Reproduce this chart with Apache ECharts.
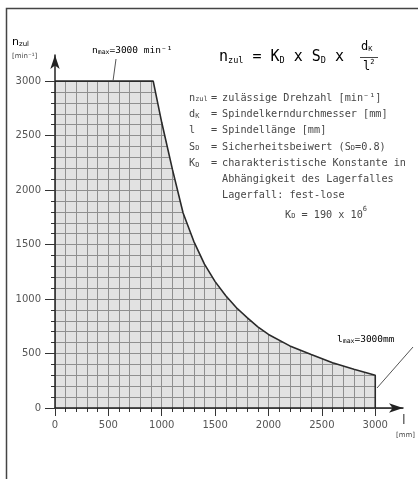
<!DOCTYPE html>
<html><head><meta charset="utf-8">
<script src="https://cdn.jsdelivr.net/npm/echarts@6/dist/echarts.min.js"></script>
<style>html,body{margin:0;padding:0;background:#fff}#c{width:418px;height:479px}</style>
</head><body><div id="c"></div>
<script>
// Spindle length l [mm]
const lengths = [0, 920, 1000, 1100, 1200, 1300, 1400, 1500, 1600, 1700, 1800, 1900, 2000, 2200, 2400, 2600, 2800, 3000, 3000];
// Permissible speed n_zul [min^-1]
const speeds  = [3000, 3000, 2620, 2190, 1790, 1530, 1320, 1160, 1030, 920, 830, 745, 675, 570, 490, 415, 355, 300, 0];
const majorTicks = [0, 500, 1000, 1500, 2000, 2500, 3000];
const minorTicks = [0, 100, 200, 300, 400, 500, 600, 700, 800, 900, 1000, 1100, 1200, 1300, 1400, 1500,
  1600, 1700, 1800, 1900, 2000, 2100, 2200, 2300, 2400, 2500, 2600, 2700, 2800, 2900, 3000];
const xMax = 3260, yMax = 3240;

const FONT = 'DejaVu Sans';
const MONO = 'DejaVu Sans Mono';
const TXT = '#474747';
const GRIDLINE = '#8f8f8f';
const curve = lengths.map((l, i) => [l, speeds[i]]);
const cover = curve.concat([[xMax, 0]]);

function gridAxis(max) {
  return { type: 'value', min: 0, max: max, interval: 100, z: 0,
    axisLine: { show: false }, axisTick: { show: false }, axisLabel: { show: false },
    splitLine: { show: true, showMaxLine: false, lineStyle: { color: GRIDLINE, width: 1 } } };
}
function minorAxis(max) {
  return { type: 'value', min: 0, max: max, interval: 100, z: 10,
    axisLine: { show: false }, axisLabel: { show: false }, splitLine: { show: false },
    axisTick: { show: true, length: 4, customValues: minorTicks, lineStyle: { color: '#333', width: 1 } } };
}
function majorAxis(max, isX) {
  return { type: 'value', min: 0, max: max, interval: 500, z: 11,
    axisLine: { show: true, symbol: ['none', 'arrow'], symbolSize: [7, 14], lineStyle: { color: '#222', width: 1.5 } },
    axisTick: { show: true, length: isX ? 8 : 10, customValues: majorTicks, lineStyle: { color: '#333', width: 1 } },
    axisLabel: { show: true, customValues: majorTicks, margin: isX ? 12 : 14, color: '#555', fontFamily: FONT, fontSize: 10,
      formatter: v => (v % 500 === 0 && v <= 3000) ? String(v) : '' },
    splitLine: { show: false } };
}

const legendRows = [
  ['{a|n}{s|zul}', '=', 'zulässige Drehzahl [min⁻¹]'],
  ['{a|d}{s|K}', '=', 'Spindelkerndurchmesser [mm]'],
  ['{a|l}', '=', 'Spindellänge [mm]'],
  ['{a|S}{s|D}', '=', 'Sicherheitsbeiwert (S{s|D}=0.8)'],
  ['{a|K}{s|D}', '=', 'charakteristische Konstante in'],
  ['', '', 'Abhängigkeit des Lagerfalles'],
  ['', '', 'Lagerfall: fest-lose']
];
const rich = {
  a: { fontFamily: MONO, fontSize: 10.2, color: TXT, lineHeight: 13, verticalAlign: 'bottom' },
  s: { fontFamily: MONO, fontSize: 7, color: TXT, lineHeight: 11, verticalAlign: 'bottom' },
  p: { fontFamily: MONO, fontSize: 7, color: TXT, lineHeight: 14, verticalAlign: 'top' }
};
const graphics = [];
graphics.push({ type: 'polyline', silent: true, shape: { points: [[6.5, 479], [6.5, 8.5], [418, 8.5]] },
  style: { stroke: '#444', lineWidth: 1.5, fill: null } });
let y0 = 100, dy = 16.3;
legendRows.forEach((r, i) => {
  const y = y0 + i * dy;
  if (r[0]) graphics.push({ type: 'text', left: 189, top: y - 7, style: { text: r[0], rich: rich, fill: TXT } });
  if (r[1]) graphics.push({ type: 'text', left: 211, top: y - 7, style: { text: '{a|' + r[1] + '}', rich: rich, fill: TXT } });
  graphics.push({ type: 'text', left: 222, top: y - 7, style: { text: '{a|' + r[2].replace('S{s|D}', '}{a|S}{s|D}{a|') + '}', rich: rich, fill: TXT } });
});
graphics.push({ type: 'text', left: 285, top: y0 + 7 * dy - 8, style: { text: '{a|K}{s|D}{a| = 190 x 10}{p|6}', rich: rich, fill: TXT } });

const frich = {
  a: { fontFamily: MONO, fontSize: 15, color: TXT, lineHeight: 19, verticalAlign: 'bottom' },
  s: { fontFamily: MONO, fontSize: 8.5, color: TXT, lineHeight: 14, verticalAlign: 'bottom' }
};
graphics.push({ type: 'text', left: 219, top: 50, style: { text: '{a|n}{s|zul}{a| = K}{s|D}{a| x S}{s|D}{a| x }', rich: frich } });
graphics.push({ type: 'text', left: 361, top: 41, style: { text: '{b|d}{t|K}', rich: {
  b: { fontFamily: MONO, fontSize: 12, color: TXT, lineHeight: 14, verticalAlign: 'bottom' },
  t: { fontFamily: MONO, fontSize: 7, color: TXT, lineHeight: 11, verticalAlign: 'bottom' } } } });
graphics.push({ type: 'line', silent: true, shape: { x1: 360, y1: 57.5, x2: 378, y2: 57.5 }, style: { stroke: TXT, lineWidth: 1 } });
graphics.push({ type: 'text', left: 363, top: 59, style: { text: '{b|l}{t|2}', rich: {
  b: { fontFamily: MONO, fontSize: 12, color: TXT, lineHeight: 14, verticalAlign: 'bottom' },
  t: { fontFamily: MONO, fontSize: 7, color: TXT, lineHeight: 14, verticalAlign: 'top' } } } });

// axis titles
graphics.push({ type: 'text', left: 12, top: 37, style: { text: '{a|n}{s|zul}', rich: {
  a: { fontFamily: FONT, fontSize: 11, color: TXT, lineHeight: 13, verticalAlign: 'bottom' },
  s: { fontFamily: FONT, fontSize: 7, color: TXT, lineHeight: 10, verticalAlign: 'bottom' } } } });
graphics.push({ type: 'text', left: 12, top: 53, style: { text: '[min⁻¹]', font: '7px ' + FONT, fill: TXT } });
graphics.push({ type: 'text', left: 402, top: 414, style: { text: 'l', font: '13px ' + FONT, fill: TXT } });
graphics.push({ type: 'text', left: 396, top: 432, style: { text: '[mm]', font: '7px ' + FONT, fill: TXT } });

// annotations
const arich = {
  a: { fontFamily: MONO, fontSize: 9.5, color: TXT, lineHeight: 11, verticalAlign: 'bottom' },
  s: { fontFamily: MONO, fontSize: 6.5, color: TXT, lineHeight: 8, verticalAlign: 'bottom' }
};
graphics.push({ type: 'text', left: 92, top: 46, style: { text: '{a|n}{s|max}{a|=3000 min⁻¹}', rich: arich } });
graphics.push({ type: 'line', silent: true, shape: { x1: 116, y1: 59, x2: 113, y2: 81 }, style: { stroke: '#555', lineWidth: 1 } });
graphics.push({ type: 'text', left: 337, top: 335, style: { text: '{a|l}{s|max}{a|=3000mm}', rich: arich } });
graphics.push({ type: 'line', silent: true, shape: { x1: 413, y1: 347, x2: 377, y2: 388 }, style: { stroke: '#555', lineWidth: 1 } });
graphics.forEach(g => { g.z = 100; });

const chart = echarts.init(document.getElementById('c'), null, { renderer: 'canvas' });
chart.setOption({
  animation: false,
  backgroundColor: '#fff',
  grid: { left: 55, right: 15, top: 55, bottom: 71, show: true, backgroundColor: '#e2e2e2', borderWidth: 0 },
  xAxis: [gridAxis(xMax), minorAxis(xMax), majorAxis(xMax, true)].map(a => Object.assign(a, { position: 'bottom' })),
  yAxis: [gridAxis(yMax), minorAxis(yMax), majorAxis(yMax, false)].map(a => Object.assign(a, { position: 'left' })),
  series: [
    { type: 'line', data: cover, xAxisIndex: 0, yAxisIndex: 0, showSymbol: false, silent: true, z: 2,
      lineStyle: { width: 0, opacity: 0 }, areaStyle: { color: '#ffffff', opacity: 1, origin: 'end' } },
    { type: 'line', data: curve, xAxisIndex: 0, yAxisIndex: 0, showSymbol: false, silent: true, z: 3,
      lineStyle: { color: '#2a2a2a', width: 1.6 } }
  ],
  graphic: graphics
});
</script></body></html>
